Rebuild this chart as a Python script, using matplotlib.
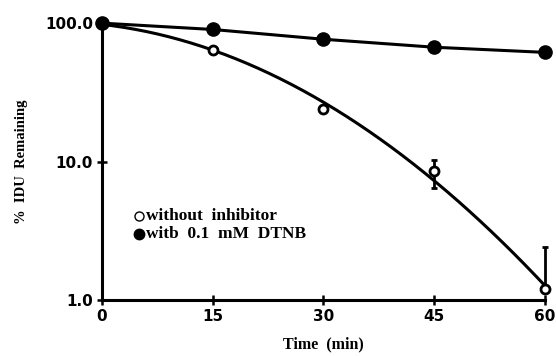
import numpy as np
import matplotlib
matplotlib.use('Agg')
import matplotlib.pyplot as plt
from matplotlib.ticker import FixedLocator, FixedFormatter, NullLocator

# Time points (min)
time = [0, 15, 30, 45, 60]

# % IDU remaining
without_inhib = [100.0, 63.5, 24.0, 8.5, 1.2]
err_low = [0, 0, 0, 2.0, 0]
err_high = [0, 0, 0, 1.8, 1.2]
with_dtnb = [100.0, 90.0, 76.5, 67.0, 61.5]

ytick_vals = [1, 10, 100]
ytick_labels = ['1.0', '10.0', '100.0']
xtick_vals = [0, 15, 30, 45, 60]

fig = plt.figure(figsize=(5.56, 3.56), dpi=100)
ax = fig.add_axes([0.1835, 0.157, 0.7965, 0.778])

# quadratic fit (log space) through the uninhibited data
coef = np.polyfit(time, np.log10(without_inhib), 2)
tt = np.linspace(0, 60, 200)
ax.plot(tt, 10 ** np.polyval(coef, tt), color='black', lw=2.2, zorder=2)

ax.plot(time, with_dtnb, color='black', lw=2.2, marker='o', ms=9.5,
        mfc='black', mec='black', clip_on=False, zorder=3)
ax.errorbar(time[1:], without_inhib[1:], yerr=[err_low[1:], err_high[1:]],
            fmt='o', ms=6.5, mfc='white', mec='black', mew=2, ecolor='black',
            elinewidth=2, capsize=2.5, capthick=1.5, clip_on=False, zorder=4)

ax.set_yscale('log')
ax.set_xlim(0, 60)
ax.set_ylim(1, 100)
ax.yaxis.set_major_locator(FixedLocator(ytick_vals))
ax.yaxis.set_major_formatter(FixedFormatter(ytick_labels))
ax.yaxis.set_minor_locator(NullLocator())
ax.set_xticks(xtick_vals)
ax.set_xticklabels([str(v) for v in xtick_vals])

for s in ['top', 'right']:
    ax.spines[s].set_visible(False)
for s in ['left', 'bottom']:
    ax.spines[s].set_linewidth(2.2)

ax.tick_params(direction='inout', length=7, width=1.8, labelsize=11, pad=3)
for lbl in ax.get_xticklabels() + ax.get_yticklabels():
    lbl.set_fontweight('bold')
    lbl.set_family('DejaVu Sans')

ax.set_xlabel('Time  (min)', family='Liberation Serif', fontweight='bold',
              fontsize=11.5, labelpad=9)
ax.set_ylabel('%  IDU  Remaining', family='Liberation Serif', fontweight='bold',
              fontsize=10.5, labelpad=12)

# legend drawn as text with markers
ax.plot([5.0], [4.05], 'o', ms=6.5, mfc='white', mec='black', mew=1)
ax.plot([5.0], [3.0], 'o', ms=7.5, mfc='black', mec='black')
ax.text(6.0, 4.05, 'without  inhibitor', family='Liberation Serif', fontweight='bold',
        fontsize=12.5, va='center')
ax.text(6.0, 3.0, 'witb  0.1  mM  DTNB', family='Liberation Serif', fontweight='bold',
        fontsize=12.5, va='center')

fig.savefig('out.png', dpi=100)
